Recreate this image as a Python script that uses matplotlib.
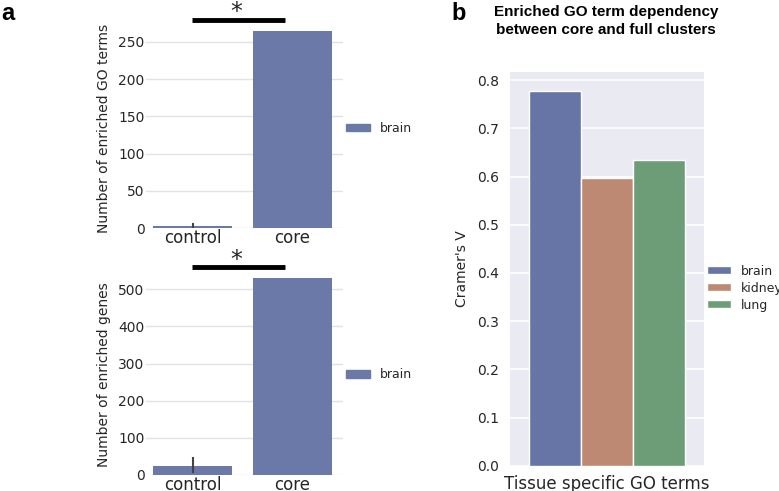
import matplotlib
matplotlib.use("Agg")
import matplotlib.pyplot as plt
from matplotlib.patches import Patch
import numpy as np

# ---- data ----
groups = ["control", "core"]
go_terms = [3, 265]
go_terms_err_lo = [0, 265]
go_terms_err_hi = [6, 265]
genes = [25, 530]
genes_err_lo = [8, 530]
genes_err_hi = [45, 530]

tissues = ["brain", "kidney", "lung"]
cramers_v = [0.778, 0.598, 0.634]

blue = "#6b79a8"
tissue_colors = ["#6675a5", "#bd8972", "#6c9d77"]
text_col = "#262626"

W, H = 779, 491
fig = plt.figure(figsize=(W / 100, H / 100), dpi=100)
fig.patch.set_facecolor("white")


def frac(left, top, right, bottom):
    return [left / W, 1 - bottom / H, (right - left) / W, (bottom - top) / H]


def panel_a(ax, vals, lo, hi, ylabel, yticks, ymax):
    x = np.arange(len(groups))
    ax.bar(x, vals, width=0.79, color=blue, zorder=2)
    for xi, l, h in zip(x, lo, hi):
        if h > l:
            ax.plot([xi, xi], [l, h], color="#424242", lw=1.5, zorder=3)
    ax.set_xlim(-0.465, 1.505)
    ax.set_ylim(0, ymax)
    ax.set_xticks(x)
    ax.set_xticklabels(groups, fontsize=12, color=text_col)
    ax.set_yticks(yticks)
    ax.tick_params(axis="y", labelsize=10, colors=text_col, length=0, pad=1)
    ax.tick_params(axis="x", length=0, pad=1)
    ax.set_ylabel(ylabel, fontsize=10, color=text_col, labelpad=5)
    ax.grid(axis="y", color="#e2e2e2", lw=1, zorder=0)
    ax.set_axisbelow(True)
    for s in ax.spines.values():
        s.set_visible(False)
    ax.set_facecolor("white")
    top = max(vals)
    yl = top * 1.055
    ax.plot([-0.01, 0.92], [yl, yl], color="black", lw=3.5, clip_on=False,
            solid_capstyle="butt")
    ax.text(0.44, yl + top * 0.003, "*", ha="center", va="baseline",
            fontsize=17, color=text_col, clip_on=False)
    ax.legend(handles=[Patch(color=blue, label="brain")], loc="center left",
              bbox_to_anchor=(1.015, 0.5), frameon=False, fontsize=9,
              handlelength=1.9, handleheight=0.55, handletextpad=0.8,
              borderaxespad=0, borderpad=0, labelcolor=text_col)


ax1 = fig.add_axes(frac(146, 28.5, 343, 228))
panel_a(ax1, go_terms, go_terms_err_lo, go_terms_err_hi,
        "Number of enriched GO terms", [0, 50, 100, 150, 200, 250], 268)

ax2 = fig.add_axes(frac(146, 274.4, 343, 475))
panel_a(ax2, genes, genes_err_lo, genes_err_hi,
        "Number of enriched genes", [0, 100, 200, 300, 400, 500], 540)

# ---- panel b ----
axb = fig.add_axes(frac(510, 72, 704, 465.7))
axb.set_facecolor("#eaeaf2")
bw = 0.8 / len(tissues)
for i, (t, v, c) in enumerate(zip(tissues, cramers_v, tissue_colors)):
    axb.bar(-0.4 + bw * (i + 0.5), v, width=bw, color=c, edgecolor="white",
            linewidth=1, label=t, zorder=2)
axb.set_xlim(-0.5, 0.5)
axb.set_ylim(0, 0.817)
axb.set_yticks(np.arange(0, 0.81, 0.1))
axb.set_yticklabels([f"{v:.1f}" for v in np.arange(0, 0.81, 0.1)])
axb.set_xticks([])
axb.grid(axis="y", color="white", lw=1.2, zorder=0)
axb.set_axisbelow(True)
for s in axb.spines.values():
    s.set_visible(False)
axb.tick_params(axis="y", labelsize=10, colors=text_col, length=0, pad=8)
axb.set_ylabel("Cramer's V", fontsize=10, color=text_col, labelpad=6)
axb.set_xlabel("Tissue specific GO terms", fontsize=12, color=text_col,
               labelpad=7)
axb.legend(loc="center left", bbox_to_anchor=(1.015, 0.451), frameon=False,
           fontsize=9, handlelength=1.9, handleheight=0.55,
           handletextpad=0.8, borderaxespad=0, borderpad=0,
           labelcolor=text_col, labelspacing=0.32)

fig.text(606 / W, 1 - 21 / H,
         "Enriched GO term dependency\nbetween core and full clusters",
         ha="center", va="center", fontsize=11, fontweight="bold",
         family="Liberation Sans", linespacing=1.45)
fig.text(1 / W, 1 - 14 / H, "a", ha="left", va="center", fontsize=17,
         fontweight="bold", family="Liberation Sans")
fig.text(451 / W, 1 - 13 / H, "b", ha="left", va="center", fontsize=17,
         fontweight="bold", family="Liberation Sans")

fig.savefig("out.png", dpi=100)
